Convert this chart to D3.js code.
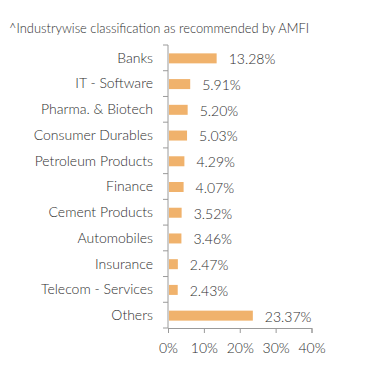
<!DOCTYPE html>
<html><head><meta charset="utf-8">
<script src="https://cdn.jsdelivr.net/npm/d3@7"></script>
<style>body{margin:0;background:#fff;}svg{display:block;font-family:Lato,"Open Sans",sans-serif;font-weight:300;}</style>
</head><body>
<script>
const categories = ["Banks","IT - Software","Pharma. & Biotech","Consumer Durables","Petroleum Products","Finance","Cement Products","Automobiles","Insurance","Telecom - Services","Others"];
const values = [13.28,5.91,5.20,5.03,4.29,4.07,3.52,3.46,2.47,2.43,23.37];
const xTicks = [0,10,20,30,40];
const title = "^Industrywise classification as recommended by AMFI";

const W=391,H=382;
const svg=d3.select("body").append("svg").attr("width",W).attr("height",H);
const x=d3.scaleLinear().domain([0,40]).range([168,311.5]);
const axisColor="#9a9a9a", textColor="#2e2e2e";

svg.append("text").attr("x",9).attr("y",33).attr("font-size",12.9).attr("fill",textColor).text(title);

const band=d3.scaleBand().domain(categories).range([45,328]);
const yAxisG=svg.append("g");
yAxisG.append("line").attr("x1",x(0)).attr("x2",x(0)).attr("y1",45).attr("y2",328).attr("stroke",axisColor);
const bounds=categories.map(c=>band(c)).concat([328]);
yAxisG.selectAll("line.t").data(bounds).join("line").attr("class","t")
 .attr("x1",x(0)-5).attr("x2",x(0)).attr("y1",d=>d).attr("y2",d=>d).attr("stroke",axisColor);
yAxisG.selectAll("text").data(categories).join("text")
 .attr("x",x(0)-15).attr("y",d=>band(d)+band.bandwidth()/2).attr("dy","0.35em")
 .attr("text-anchor","end").attr("font-size",14).attr("fill",textColor).text(d=>d);

const xg=svg.append("g").attr("transform","translate(0,328)")
 .call(d3.axisBottom(x).tickValues(xTicks).tickFormat(d=>d+"%").tickSize(5).tickPadding(10));
xg.select(".domain").attr("stroke",axisColor);
xg.selectAll(".tick line").attr("stroke",axisColor);
xg.selectAll("text").attr("font-size",14).attr("fill",textColor).attr("font-family","Lato").attr("font-weight",300);

const bh=10;
svg.selectAll("rect.bar").data(categories).join("rect").attr("class","bar")
 .attr("x",x(0)+1).attr("y",d=>band(d)+band.bandwidth()/2-bh/2+0.5)
 .attr("width",(d,i)=>x(values[i])-x(0)).attr("height",bh).attr("fill","#F0B26C");
svg.selectAll("text.val").data(categories).join("text").attr("class","val")
 .attr("x",(d,i)=>x(values[i])+13).attr("y",d=>band(d)+band.bandwidth()/2+1.5).attr("dy","0.35em")
 .attr("font-size",14).attr("fill",textColor).text((d,i)=>values[i].toFixed(2)+"%");
</script>
</body></html>
